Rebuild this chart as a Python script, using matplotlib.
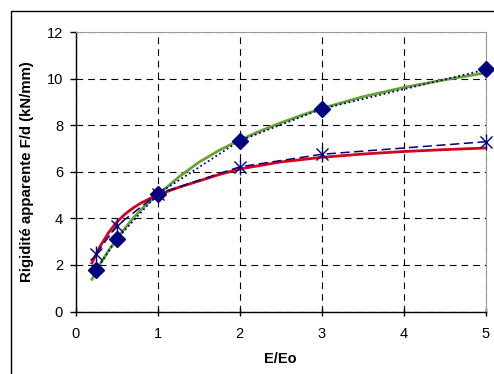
import numpy as np
import matplotlib
matplotlib.use('Agg')
import matplotlib.pyplot as plt
from matplotlib.patches import Rectangle

plt.rcParams['font.family'] = ['Liberation Sans', 'DejaVu Sans']

# measured points
x_pts = [0.25, 0.5, 1, 2, 3, 5]
y_diamond = [1.78, 3.1, 5.04, 7.33, 8.7, 10.39]
y_star = [2.47, 3.67, 5.05, 6.21, 6.75, 7.29]

# fitted curves
x_green = [0.2, 0.3, 0.4, 0.5, 0.6, 0.7, 0.8, 0.9, 1.0, 1.25, 1.5, 1.75, 2.0,
           2.25, 2.5, 2.75, 3.0, 3.5, 4.0, 4.5, 5.0]
y_green = [1.38, 2.03, 2.6, 3.1, 3.57, 4.0, 4.38, 4.71, 5.0, 5.75, 6.4, 6.92, 7.36,
           7.75, 8.1, 8.42, 8.72, 9.22, 9.62, 9.95, 10.25]
x_red = [0.2, 0.3, 0.4, 0.5, 0.6, 0.7, 0.8, 0.9, 1.0, 1.25, 1.5, 1.75, 2.0,
         2.5, 3.0, 3.5, 4.0, 4.5, 5.0]
y_red = [2.08, 2.8, 3.37, 3.83, 4.17, 4.44, 4.66, 4.84, 5.0, 5.32, 5.6, 5.88, 6.12,
         6.42, 6.62, 6.76, 6.87, 6.95, 7.02]

fig = plt.figure(figsize=(4.94, 3.74), dpi=100)
ax = fig.add_axes([75.5 / 494, 62.5 / 374, 410.5 / 494, 279.5 / 374])

# outer chart frame (cut off on right and bottom)
fig.patches.append(Rectangle((11 / 494, -0.1), 1.0, (374 - 11) / 374 + 0.1,
                             transform=fig.transFigure, fill=False,
                             edgecolor='black', linewidth=1.0))

navy = '#000080'
ax.plot(x_green, y_green, color='#66a332', lw=2.0, zorder=3)
ax.plot(x_red, y_red, color='#d9001b', lw=2.0, zorder=3)

ax.plot(x_pts, y_diamond, color=navy, lw=1.3, ls=(0, (1, 1.5)), zorder=4)
ax.plot(x_pts, y_star, color=navy, lw=1.1, ls=(0, (6, 3)), zorder=4)

ax.plot(x_pts, y_diamond, ls='none', marker='D', ms=8, color=navy, zorder=6, clip_on=False)
ax.plot(x_pts, y_star, ls='none', marker='x', ms=9, mew=1.0, color=navy, zorder=5, clip_on=False)
ax.plot(x_pts, y_star, ls='none', marker='|', ms=11, mew=1.0, color=navy, zorder=5, clip_on=False)

ax.set_xlim(0, 5)
ax.set_ylim(0, 12)
ax.set_xticks([0, 1, 2, 3, 4, 5])
ax.set_yticks([0, 2, 4, 6, 8, 10, 12])
ax.grid(True, color='black', ls=(0, (6, 4.5)), lw=0.8)
ax.set_axisbelow(True)

for s in ['top', 'right']:
    ax.spines[s].set_color('#999999')
    ax.spines[s].set_linewidth(0.8)
for s in ['left', 'bottom']:
    ax.spines[s].set_linewidth(1.0)

ax.tick_params(axis='x', direction='inout', length=6, width=1.0, labelsize=10.5, pad=8)
ax.tick_params(axis='y', direction='out', length=4, width=1.0, labelsize=10.5, pad=5)

ax.set_xlabel('E/Eo', fontsize=10.5, fontweight='bold', labelpad=8)
ax.set_ylabel('Rigidité apparente F/d (kN/mm)', fontsize=10.8, fontweight='bold', labelpad=9)

fig.savefig('out.png', dpi=100)
